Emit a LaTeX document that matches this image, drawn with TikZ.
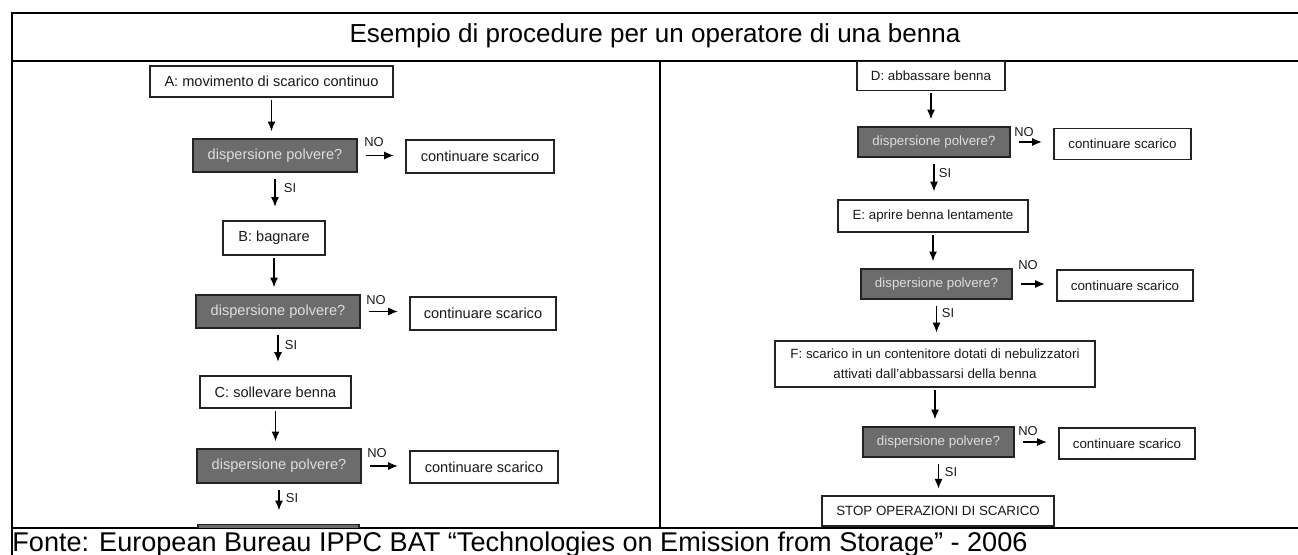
\documentclass[tikz,border=0pt]{standalone}
\usepackage{fontspec}
\setmainfont{Liberation Sans}
\usetikzlibrary{arrows.meta}
\definecolor{qfill}{RGB}{108,108,108}
\definecolor{qtext}{RGB}{222,222,222}
\definecolor{bordc}{RGB}{35,35,35}
\definecolor{txtc}{RGB}{25,25,25}
\begin{document}
\begin{tikzpicture}[x=0.48pt,y=-0.48pt,
  frame/.style={line width=1.1pt,black},
  wd/.style={minimum width=#1*0.48pt},
  ht/.style={minimum height=#1*0.48pt},
  wbox/.style={draw=bordc,line width=0.75pt,fill=white,inner sep=0pt,align=center,text=txtc},
  lfont/.style={font=\fontsize{7}{9}\selectfont},
  rfont/.style={font=\fontsize{6.4}{9.5}\selectfont},
  qbox/.style={wbox,fill=qfill,text=qtext},
  flow/.style={-{Latex[length=4.6pt,width=3.8pt]},line width=0.5pt,black},
  lab/.style={inner sep=0pt,text=txtc,font=\fontsize{6.2}{7}\selectfont},
  vflow/.style={flow,shorten <=1pt,shorten >=3.4pt},
  siflow/.style={flow,shorten <=2.8pt,shorten >=6.5pt},
  noflow/.style={flow,shorten <=3.8pt,shorten >=5.5pt}
]
\useasboundingbox (0,0) rectangle (1298,555);
% table frame
\draw[frame] (1298,13) -- (12,13) -- (12,555);
\draw[frame] (12,61) -- (1298,61);
\draw[frame] (12,528) -- (1298,528);
\draw[frame] (660,61) -- (660,528);
\node[anchor=base,font=\fontsize{12.5}{14}\selectfont,inner sep=0pt] (title) at (655,43) {Esempio di procedure per un operatore di una benna};
\node[anchor=base west,font=\fontsize{13}{15}\selectfont,inner sep=0pt] (fonte) at (12,552) {Fonte: European Bureau IPPC BAT “Technologies on Emission from Storage” - 2006};

% ---------- left flowchart ----------
\begin{scope}[lfont]
\node[wbox,wd=243,ht=31] (a) at (271.5,81.5) {A: movimento di scarico continuo};
\node[qbox,wd=164,ht=33] (q1) at (275,155.5) {dispersione polvere?};
\node[wbox,wd=148,ht=33] (c1) at (480,156.5) {continuare scarico};
\node[wbox,wd=102,ht=34] (b) at (274,238) {B: bagnare};
\node[qbox,wd=164,ht=33] (q2) at (278,311.5) {dispersione polvere?};
\node[wbox,wd=146,ht=33] (c2) at (483,313.5) {continuare scarico};
\node[wbox,wd=151,ht=32] (c) at (275.5,392) {C: sollevare benna};
\node[qbox,wd=164,ht=34] (q3) at (279,466) {dispersione polvere?};
\node[wbox,wd=148,ht=32] (c3) at (484,467) {continuare scarico};
\end{scope}
\begin{scope}
\clip (12,61) rectangle (660,527.5);
\node[qbox,wd=161,ht=34] (q4) at (278.5,541.5) {};
\end{scope}
\draw[vflow] (a) -- (a.south |- q1.north);
\draw[siflow] (q1) -- (q1.south |- b.north);
\draw[vflow] (b) -- (b.south |- q2.north);
\draw[siflow] (q2) -- (q2.south |- c.north);
\draw[vflow] (c) -- (c.south |- q3.north);
\draw[siflow] (q3) -- (q3.south |- q4.north);
\draw[noflow] (q1.east) -- (q1.east -| c1.west);
\draw[noflow] (q2.east) -- (q2.east -| c2.west);
\draw[noflow] (q3.east) -- (q3.east -| c3.west);
\node[lab] (no1) at (374,142) {NO};
\node[lab] (no2) at (376,300) {NO};
\node[lab] (no3) at (377,453) {NO};
\node[lab] (si1) at (290,188) {SI};
\node[lab] (si2) at (291,345) {SI};
\node[lab] (si3) at (292,498) {SI};

% ---------- right flowchart ----------
\begin{scope}[rfont]
\node[wbox,wd=148,ht=29] (d) at (931,76) {D: abbassare benna};
\node[qbox,wd=152,ht=30] (r1) at (934,142) {dispersione polvere?};
\node[wbox,wd=137,ht=31] (k1) at (1122.5,144) {continuare scarico};
\node[wbox,wd=190,ht=32] (e) at (933,216) {E: aprire benna lentamente};
\node[qbox,wd=151,ht=30] (r2) at (936.5,284) {dispersione polvere?};
\node[wbox,wd=136,ht=31] (k2) at (1125,285.5) {continuare scarico};
\node[wbox,wd=320,ht=46] (f) at (935,364) {F: scarico in un contenitore dotati di nebulizzatori\\attivati dall'abbassarsi della benna};
\node[qbox,wd=151,ht=30] (r3) at (938.5,442) {dispersione polvere?};
\node[wbox,wd=136,ht=31] (k3) at (1127,443.5) {continuare scarico};
\node[wbox,wd=232,ht=30] (stop) at (938,511) {STOP OPERAZIONI DI SCARICO};
\end{scope}
\draw[vflow] (d) -- (d.south |- r1.north);
\draw[siflow,shorten >=3.8pt] (r1) -- (r1.south |- e.north);
\draw[vflow] (e) -- (e.south |- r2.north);
\draw[siflow,shorten >=3.8pt] (r2) -- (r2.south |- f.north);
\draw[vflow] (f) -- (f.south |- r3.north);
\draw[siflow,shorten >=3.2pt] (r3) -- (r3.south |- stop.north);
\draw[noflow] (r1.east) -- (r1.east -| k1.west);
\draw[noflow] (r2.east) -- (r2.east -| k2.west);
\draw[noflow] (r3.east) -- (r3.east -| k3.west);
\node[lab] (rno1) at (1024,132) {NO};
\node[lab] (rno2) at (1028,265) {NO};
\node[lab] (rno3) at (1028,431) {NO};
\node[lab] (rsi1) at (945,173) {SI};
\node[lab] (rsi2) at (948,313) {SI};
\node[lab] (rsi3) at (951,472) {SI};
\end{tikzpicture}
\end{document}
